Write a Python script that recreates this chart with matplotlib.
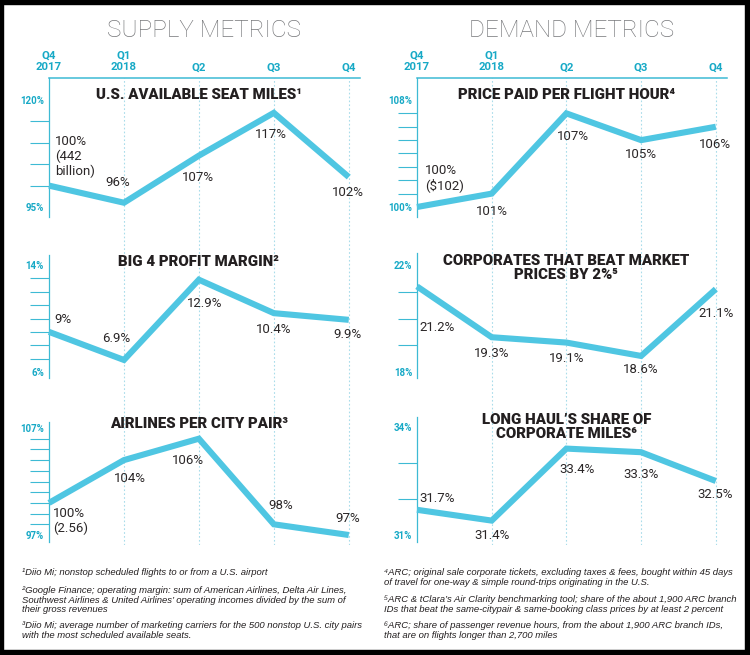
import matplotlib.pyplot as plt
from matplotlib.patches import Rectangle

W, H = 750, 655

# quarters on the shared x axis
quarters = ['Q4\n2017', 'Q1\n2018', 'Q2', 'Q3', 'Q4']

# supply metrics
asm = [100, 96, 107, 117, 102]
asm_labels = ['100%\n(442\nbillion)', '96%', '107%', '117%', '102%']
profit = [9, 6.9, 12.9, 10.4, 9.9]
profit_labels = ['9%', '6.9%', '12.9%', '10.4%', '9.9%']
airlines = [100, 104, 106, 98, 97]
airlines_labels = ['100%\n(2.56)', '104%', '106%', '98%', '97%']

# demand metrics
price = [100, 101, 107, 105, 106]
price_labels = ['100%\n($102)', '101%', '107%', '105%', '106%']
beat = [21.2, 19.3, 19.1, 18.6, 21.1]
beat_labels = ['21.2%', '19.3%', '19.1%', '18.6%', '21.1%']
longhaul = [31.7, 31.4, 33.4, 33.3, 32.5]
longhaul_labels = ['31.7%', '31.4%', '33.4%', '33.3%', '32.5%']

notes_left = [
    '\u00b9Diio Mi; nonstop scheduled flights to or from a U.S. airport',
    '\u00b2Google Finance; operating margin: sum of American Airlines, Delta Air Lines,\n'
    'Southwest Airlines & United Airlines\u2019 operating incomes divided by the sum of\n'
    'their gross revenues',
    '\u00b3Diio Mi; average number of marketing carriers for the 500 nonstop U.S. city pairs\n'
    'with the most scheduled available seats.',
]
notes_right = [
    '\u2074ARC; original sale corporate tickets, excluding taxes & fees, bought within 45 days\n'
    'of travel for one-way & simple round-trips originating in the U.S.',
    '\u2075ARC & tClara\u2019s Air Clarity benchmarking tool; share of the about 1,900 ARC branch\n'
    'IDs that beat the same-citypair & same-booking class prices by at least 2 percent',
    '\u2076ARC; share of passenger revenue hours, from the about 1,900 ARC branch IDs,\n'
    'that are on flights longer than 2,700 miles',
]

LINE = '#4fc6e2'
AXIS = '#3dbad4'
TEAL = '#17a9c6'
GRID = '#a9dcea'
FONT = ['Roboto', 'DejaVu Sans']
NOTE_FONT = ['Liberation Sans', 'DejaVu Sans']

fig = plt.figure(figsize=(W / 100, H / 100), dpi=100)


def fx(x):
    return x / W


def fy(y):
    return 1 - y / H


def column_grid(x0, x1):
    g = fig.add_axes([fx(x0), fy(545), fx(x1 - x0), (545 - 78) / H], zorder=0)
    g.set_xlim(0, 4.15)
    g.set_ylim(0, 1)
    g.vlines(range(1, 5), 0, 1, color=GRID, lw=0.8, linestyles=(0, (1.5, 2)))
    g.axis('off')


def panel(x0, x1, top, bottom, lo, hi, step, ylo, yhi, values, labels, offsets,
          title, first=False):
    ax = fig.add_axes([fx(x0), fy(bottom), fx(x1 - x0), (bottom - top) / H], zorder=2)
    ax.patch.set_alpha(0)
    ppu = (ylo - yhi) / (hi - lo)
    ax.set_ylim(lo - (bottom - ylo) / ppu, hi + (yhi - top) / ppu)
    ax.set_xlim(0, 4.15)

    ax.plot(range(5), values, color=LINE, lw=4.4, solid_joinstyle='miter',
            solid_capstyle='butt', clip_on=False, zorder=3)

    for sp in ['right', 'bottom', 'top']:
        ax.spines[sp].set_visible(False)
    ax.spines['left'].set_color(AXIS)
    ax.spines['left'].set_linewidth(0.9)

    ax.set_yticks([lo, hi], [f'{lo:g}%', f'{hi:g}%'], fontsize=7,
                  fontweight='bold', color=TEAL, family=FONT)
    minors = [lo + step * i for i in range(1, round((hi - lo) / step))]
    ax.set_yticks(minors, minor=True)
    ax.tick_params(axis='y', which='major', length=0, pad=3.6)
    ax.tick_params(axis='y', which='minor', length=13.7, width=0.8, color=AXIS)

    if first:
        ax.spines['top'].set_visible(True)
        ax.spines['top'].set_color(AXIS)
        ax.spines['top'].set_linewidth(1.1)
        ax.xaxis.tick_top()
        ax.set_xticks(range(5), quarters, fontsize=8.2, fontweight='bold',
                      color=TEAL, family=FONT)
        ax.tick_params(axis='x', length=0, pad=4)
    else:
        ax.set_xticks([])

    for i, (v, lab, (dx, dy, ha)) in enumerate(zip(values, labels, offsets)):
        ax.annotate(lab, (i, v), xytext=(dx * 0.72, dy * 0.72), textcoords='offset points',
                    ha=ha, va='center', fontsize=9.5, fontweight='normal',
                    color='#2a2627', family=FONT, linespacing=1.15)

    fig.text(fx(x0 + (x1 - x0) * 2 / 4.15), fy(title[1]), title[0], ha='center',
             va='center', fontsize=10.8, fontweight='heavy', color='#231f20',
             family=FONT, linespacing=1.0)
    return ax


LX0, LX1 = 49, 360
RX0, RX1 = 417, 727
column_grid(LX0, LX1)
column_grid(RX0, RX1)

panel(LX0, LX1, 78, 217, 95, 120, 5, 207, 100, asm, asm_labels,
      [(6, 29, 'left'), (-6, 20, 'center'), (-1, -22, 'center'),
       (-3, -22, 'center'), (-1, -15, 'center')],
      ('U.S. AVAILABLE SEAT MILES\u00b9', 95), first=True)
panel(LX0, LX1, 255, 378, 6, 14, 1, 372, 265, profit, profit_labels,
      [(5, 12, 'left'), (-8, 21, 'center'), (6, -24, 'center'),
       (0, -16, 'center'), (-1, -15, 'center')],
      ('BIG 4 PROFIT MARGIN\u00b2', 262))
panel(LX0, LX1, 422, 542, 97, 107, 1, 535, 428, airlines, airlines_labels,
      [(4, -18, 'left'), (6, -18, 'center'), (-11, -22, 'center'),
       (7, 19, 'center'), (-1, 16, 'center')],
      ('AIRLINES PER CITY PAIR\u00b3', 424))

panel(RX0, RX1, 78, 217, 100, 108, 1, 207, 100, price, price_labels,
      [(8, 29, 'left'), (0, -18, 'center'), (7, -23, 'center'),
       (0, -14, 'center'), (-1, -18, 'center')],
      ('PRICE PAID PER FLIGHT HOUR\u2074', 95), first=True)
panel(RX0, RX1, 253, 378, 18, 22, 1, 372, 265, beat, beat_labels,
      [(2, -41, 'left'), (0, -16, 'center'), (0, -16, 'center'),
       (0, -14, 'center'), (0, -24, 'center')],
      ('CORPORATES THAT BEAT MARKET\nPRICES BY 2%\u2075', 268))
panel(RX0, RX1, 417, 542, 31, 34, 1, 535, 427, longhaul, longhaul_labels,
      [(2, 11, 'left'), (0, -15, 'center'), (11, -21, 'center'),
       (0, -22, 'center'), (-1, -14, 'center')],
      ('LONG HAUL\u2019S SHARE OF\nCORPORATE MILES\u2076', 427))

# section headers
for x, txt in [(204, 'SUPPLY METRICS'), (572, 'DEMAND METRICS')]:
    fig.text(fx(x), fy(30), txt, ha='center', va='center', fontsize=17.5,
             fontweight='light', color='#77787b', family=FONT)

# footnotes
for x, notes, tops in [(22, notes_left, [568, 586, 621]), (384, notes_right, [568, 595, 621])]:
    for note, t in zip(notes, tops):
        fig.text(fx(x), fy(t), note, ha='left', va='top', fontsize=6.8, style='italic',
                 color='#231f20', family=NOTE_FONT, linespacing=1.08)

# black frame
for x, y, w, h in [(0, 0, 750, 4), (0, 0, 3, 655), (745, 0, 5, 655), (0, 650, 750, 5)]:
    fig.patches.append(Rectangle((fx(x), fy(y + h)), w / W, h / H, transform=fig.transFigure,
                                 color='black', zorder=10))

fig.savefig('out.png', dpi=100)
